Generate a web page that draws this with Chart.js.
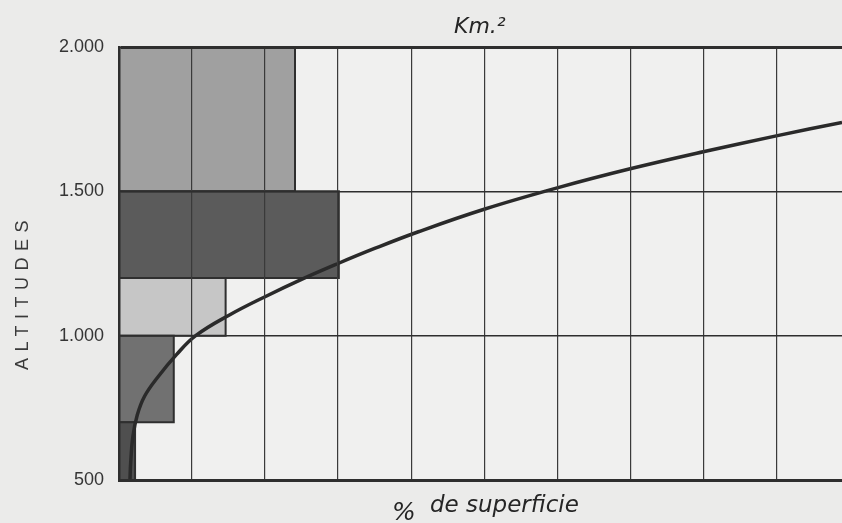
<!DOCTYPE html>
<html>
<head>
<meta charset="utf-8">
<script src="https://cdn.jsdelivr.net/npm/chart.js@4/dist/chart.umd.min.js"></script>
<style>
  html, body { margin: 0; padding: 0; background: #ebebea; }
  #wrap { width: 842px; height: 523px; position: relative; }
</style>
</head>
<body>
<div id="wrap"><canvas id="c" width="842" height="523"></canvas></div>
<script>
// ---- data ----
const yTickValues = [500, 1000, 1500, 2000];
const yTickLabels = ['500', '1.000', '1.500', '2.000'];

// altitude bands (bars): low / high altitude, width on the horizontal scale
const bandLow   = [500, 700, 1000, 1200, 1500];
const bandHigh  = [700, 1000, 1200, 1500, 2000];
const bandWidth = [2.2, 7.5, 14.6, 30.1, 24.1];

// hypsometric curve: % de superficie vs altitude
const curvePct = [1.5, 1.6, 1.9, 2.5, 3.5, 5.3, 7.9, 10.5, 15, 20, 25, 30, 35, 41, 50, 60, 70, 80, 90, 99];
const curveAlt = [500, 560, 650, 725, 790, 856, 935, 1000, 1070, 1135, 1195, 1250, 1302, 1360, 1438, 1512, 1578, 1637, 1692, 1739];

const titleTop = 'Km.²';
const yTitle = 'ALTITUDES';
const xTitlePct = '%';
const xTitle = 'de superficie';

// ---- styles ----
const bandColors = ['#4f4f4f', '#717171', '#c6c6c6', '#5b5b5b', '#a0a0a0'];
const inkColor = '#2f2f2f';

const bandDatasets = bandLow.map((lo, i) => ({
  type: 'line',
  data: [
    {x: 0, y: lo}, {x: bandWidth[i], y: lo},
    {x: bandWidth[i], y: bandHigh[i]}, {x: 0, y: bandHigh[i]}, {x: 0, y: lo}
  ],
  fill: 'shape',
  backgroundColor: bandColors[i],
  borderColor: inkColor,
  borderWidth: 2,
  pointRadius: 0,
  tension: 0,
  order: 2
}));

const curveDataset = {
  type: 'line',
  data: curvePct.map((p, i) => ({x: p, y: curveAlt[i]})),
  borderColor: '#2a2a2a',
  borderWidth: 3.5,
  pointRadius: 0,
  fill: false,
  tension: 0.4,
  order: 0
};

const bgPlugin = {
  id: 'bg',
  beforeDraw(chart) {
    const {ctx, chartArea: a} = chart;
    ctx.save();
    ctx.fillStyle = '#ebebea';
    ctx.fillRect(0, 0, chart.width, chart.height);
    ctx.fillStyle = '#f0f0ef';
    ctx.fillRect(a.left, a.top, a.right - a.left, a.bottom - a.top);
    ctx.restore();
  }
};

const textPlugin = {
  id: 'texts',
  afterDraw(chart) {
    const {ctx} = chart;
    ctx.save();
    ctx.fillStyle = '#252525';
    ctx.textBaseline = 'alphabetic';
    // top unit label
    ctx.font = 'oblique 22px "DejaVu Sans"';
    ctx.textAlign = 'left';
    ctx.fillText(titleTop, 454, 33);
    // bottom axis label
    ctx.font = 'oblique 25px "DejaVu Sans"';
    ctx.fillText(xTitlePct, 392, 520);
    ctx.font = 'oblique 23px "DejaVu Sans"';
    ctx.fillText(xTitle, 430, 512);
    // vertical axis label
    ctx.fillStyle = '#3a3a3a';
    ctx.translate(28, 295);
    ctx.rotate(-Math.PI / 2);
    ctx.font = '18px "Liberation Sans"';
    ctx.textAlign = 'center';
    try { ctx.letterSpacing = '6.5px'; } catch (e) {}
    ctx.fillText(yTitle, 3, 0);
    ctx.restore();
  }
};

new Chart(document.getElementById('c'), {
  type: 'line',
  data: { datasets: [curveDataset, ...bandDatasets] },
  options: {
    responsive: false,
    animation: false,
    layout: { padding: { top: 47, right: 0, left: 0, bottom: 0 } },
    plugins: { legend: { display: false }, tooltip: { enabled: false }, title: { display: false } },
    scales: {
      x: {
        type: 'linear',
        min: 0,
        max: 99,
        ticks: { display: false, stepSize: 10 },
        grid: {
          z: 1,
          drawTicks: false,
          color: ctx => (ctx.tick && ctx.tick.value % 10 === 0 && ctx.tick.value > 0) ? '#3a3a3a' : 'rgba(0,0,0,0)',
          lineWidth: 1.2
        },
        border: { display: true, color: '#2e2e2e', width: 3, z: 2 },
        afterFit(s) { s.height = 43; }
      },
      y: {
        type: 'linear',
        min: 500,
        max: 2000,
        afterBuildTicks(s) { s.ticks = yTickValues.map(v => ({value: v})); },
        ticks: {
          padding: 15,
          color: '#353535',
          font: { family: '"Liberation Sans", Arial, sans-serif', size: 18 },
          callback: v => yTickLabels[yTickValues.indexOf(v)]
        },
        grid: {
          z: 1,
          drawTicks: false,
          color: ctx => (ctx.tick && ctx.tick.value > 500) ? '#2e2e2e' : 'rgba(0,0,0,0)',
          lineWidth: ctx => (ctx.tick && ctx.tick.value === 2000) ? 3 : 1.6
        },
        border: { display: true, color: '#2e2e2e', width: 2.5, z: 2 },
        afterFit(s) { s.width = 119; }
      }
    }
  },
  plugins: [bgPlugin, textPlugin]
});
</script>
</body>
</html>
